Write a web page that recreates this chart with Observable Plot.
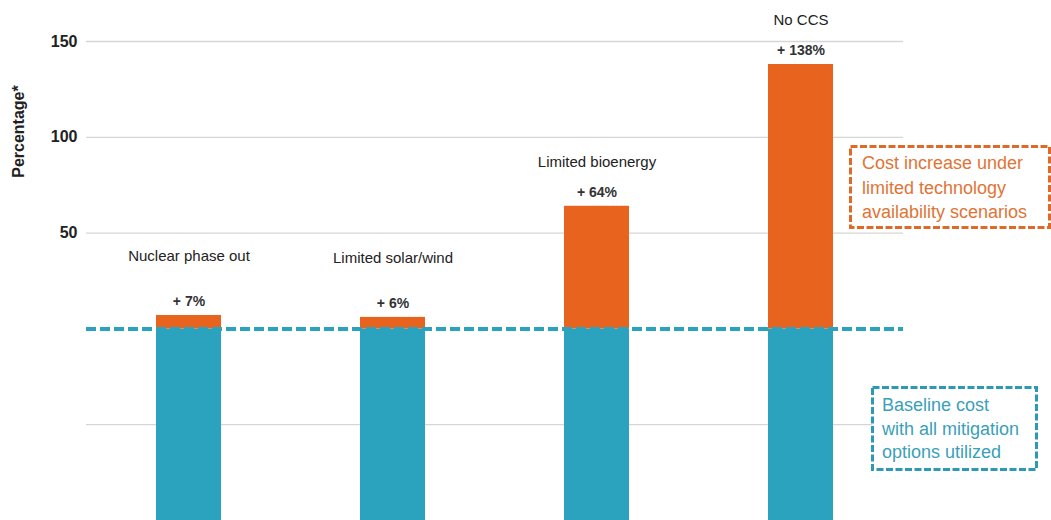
<!DOCTYPE html>
<html><head><meta charset="utf-8">
<script src="https://cdn.jsdelivr.net/npm/d3@7"></script>
<script src="https://cdn.jsdelivr.net/npm/@observablehq/plot@0.6"></script>
<style>
body{margin:0;background:#fff;font-family:"Liberation Sans",Arial,sans-serif;}
#wrap{position:relative;width:1051px;height:520px;overflow:hidden}
</style></head><body><div id="wrap"></div>
<script>
const scenarios = ["Nuclear phase out", "Limited solar/wind", "Limited bioenergy", "No CCS"];
const increase = [7, 6, 64, 138];
const baseline = [-100, -100, -100, -100];
const yTicks = [50, 100, 150];
const gridValues = [150, 100, 50, -50];
const yLabel = "Percentage*";
const legendIncrease = ["Cost increase under", "limited technology", "availability scenarios"];
const legendBaseline = ["Baseline cost", "with all mitigation", "options utilized"];

const TEAL = "#2ba2be";
const ORANGE = "#e8631d";
const FONT = "Liberation Sans, Arial, sans-serif";

const data = scenarios.map((s, i) => ({s, inc: increase[i], base: baseline[i]}));

const chart = Plot.plot({
  width: 1051, height: 520,
  marginLeft: 86, marginRight: 148, marginTop: 41, marginBottom: 0,
  style: {fontFamily: FONT, background: "#fff"},
  x: {domain: scenarios, paddingInner: 0.68, paddingOuter: 0.34, axis: null},
  y: {domain: [-100, 150], axis: null},
  marks: [
    Plot.ruleY(gridValues, {stroke: "#d6d6d6", strokeWidth: 1.3}),
    Plot.axisY(yTicks, {tickSize: 0, tickPadding: 9, fontSize: 16, fontWeight: "bold", fill: "#222", label: null}),
    Plot.barY(data, {x: "s", y: "base", fill: TEAL}),
    Plot.barY(data, {x: "s", y: "inc", fill: ORANGE}),
    Plot.ruleY([0], {stroke: TEAL, strokeWidth: 4, strokeDasharray: "10,4"}),
    Plot.text(data, {x: "s", y: "inc", text: d => `+ ${d.inc}%`, dy: -14, fontSize: 14, fontWeight: "bold", fill: "#333"}),
    Plot.text(data.filter(d => d.inc < 20), {x: "s", y: "inc", text: "s", dy: -59, fontSize: 15, fill: "#222"}),
    Plot.text(data.filter(d => d.inc >= 20), {x: "s", y: "inc", text: "s", dy: -44, fontSize: 15, fill: "#222"}),
    Plot.text([yLabel], {frameAnchor: "top-left", dx: 18 - 86, dy: 90, rotate: -90, textAnchor: "middle", lineAnchor: "middle", fontSize: 16, fontWeight: "bold", fill: "#222"})
  ]
});
document.getElementById("wrap").appendChild(chart);

const svg = d3.select(chart);
function box(x, y, w, h, color, textColor, lines, tx, ty, lh) {
  const g = svg.append("g");
  g.append("rect").attr("x", x).attr("y", y).attr("width", w).attr("height", h)
    .attr("fill", "#fff").attr("stroke", color).attr("stroke-width", 3).attr("stroke-dasharray", "7,2.5");
  const t = g.append("text").attr("font-family", FONT).attr("font-size", 18)
    .attr("text-anchor", "start").attr("fill", textColor);
  lines.forEach((l, i) => t.append("tspan").attr("x", tx).attr("y", ty + i * lh).attr("dy", "0.35em").text(l));
}
box(850.5, 146.5, 199, 81, "#de6a2a", "#e07436", legendIncrease, 862, 163, 24.5);
box(872.5, 387.5, 164, 82, "#2e99b4", "#3a9fb8", legendBaseline, 882, 405, 23.5);
</script></body></html>
